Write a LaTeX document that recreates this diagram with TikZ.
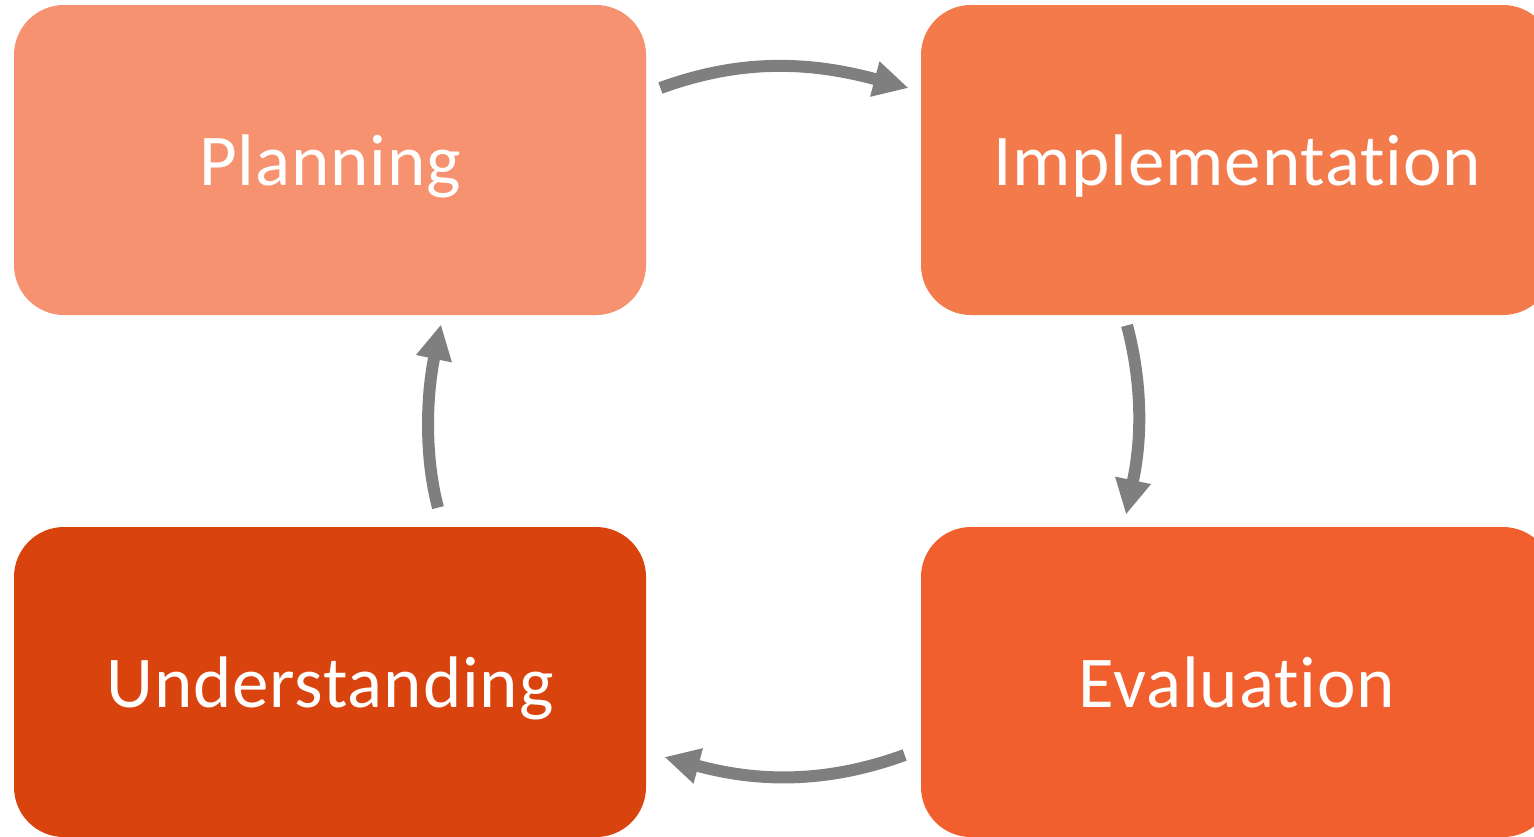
\documentclass[tikz,border=0pt]{standalone}
\usepackage{fontspec}
\setmainfont[Ligatures=NoCommon,LetterSpace=1.2]{Carlito}
\usepackage{tikz}
\usetikzlibrary{arrows.meta}
\definecolor{planc}{HTML}{F79270}
\definecolor{implc}{HTML}{F37A4B}
\definecolor{evalc}{HTML}{F05F2D}
\definecolor{undc}{HTML}{D9430D}
\definecolor{arrowc}{HTML}{7F7F7F}
\tikzstyle{stage}=[rectangle,rounded corners=25pt,minimum width=316pt,minimum height=155pt,inner sep=0pt,text=white,text height=30pt,text depth=5pt,font=\fontsize{36.5}{40}\selectfont]
\tikzstyle{cycleedge} = [draw,arrowc,line width=6pt,-{Triangle[width=17pt,length=17.5pt]}]

\begin{document}
\begin{tikzpicture}[x=0.5pt,y=-0.5pt]
    \useasboundingbox (0,0) rectangle (1534,836);
    \clip (0,0) rectangle (1534,836);

    \foreach \pos/ \name/\col/\txt in {{(330,160)/plan/planc/Planning},{(1237,160)/impl/implc/Implementation},
        {(1237,682)/eval/evalc/Evaluation},{(330,682)/und/undc/Understanding}}
        \node[stage,fill=\col] (\name) at \pos {\txt};

    % Connect the stages round the cycle: start, base of the head, tip
    \foreach \source/ \dest/\s/\b/\t/\out/\in/\loose in {
        plan.east/impl.west/{(14,-72)}/{(-46,-81)}/{(-12,-72)}/20/165/0.92,
        impl.south/eval.north/{(-110,10)}/{(-104,-46)}/{(-111,-12)}/-75/78/0.84,
        eval.west/und.east/{(-16,73)}/{(52,84)}/{(18,75)}/200/345/0.90,
        und.north/plan.south/{(108,-19)}/{(104,43)}/{(111,9)}/105/-101/0.80}
        \path[cycleedge] ([shift={\s}]\source) to[out=\out,in=\in,looseness=\loose] ([shift={\b}]\dest) -- ([shift={\t}]\dest);

\end{tikzpicture}
\end{document}
